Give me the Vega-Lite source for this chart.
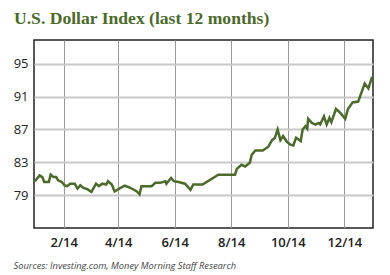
{
  "$schema": "https://vega.github.io/schema/vega-lite/v6.json",
  "width": 339,
  "height": 188,
  "autosize": {"type": "none"},
  "padding": {"left": 34, "top": 40, "right": 17, "bottom": 47},
  "background": "white",
  "title": {
    "text": "U.S. Dollar Index (last 12 months)",
    "anchor": "start",
    "frame": "group",
    "dx": -20,
    "offset": -2,
    "baseline": "alphabetic",
    "font": "Liberation Serif",
    "fontSize": 17.6,
    "fontWeight": "bold",
    "color": "#4b6a2b"
  },
  "config": {
    "view": {"stroke": "#222", "strokeWidth": 1.5},
    "axis": {"domain": false, "ticks": false, "labelFont": "Open Sans", "labelFontSize": 13, "labelColor": "#222"}
  },
  "data": {
    "values": [
      {"date": "2014-01-01", "value": 80.7},
      {"date": "2014-01-06", "value": 81.4},
      {"date": "2014-01-09", "value": 81.2},
      {"date": "2014-01-11", "value": 80.6},
      {"date": "2014-01-16", "value": 80.6},
      {"date": "2014-01-18", "value": 81.5},
      {"date": "2014-01-21", "value": 81.2},
      {"date": "2014-01-24", "value": 81.2},
      {"date": "2014-01-26", "value": 80.8},
      {"date": "2014-01-30", "value": 80.6},
      {"date": "2014-02-02", "value": 80.2},
      {"date": "2014-02-05", "value": 80.1},
      {"date": "2014-02-08", "value": 80.4},
      {"date": "2014-02-13", "value": 80.4},
      {"date": "2014-02-16", "value": 79.8},
      {"date": "2014-02-19", "value": 80.2},
      {"date": "2014-02-22", "value": 79.9},
      {"date": "2014-02-27", "value": 79.7},
      {"date": "2014-03-03", "value": 79.4},
      {"date": "2014-03-08", "value": 80.4},
      {"date": "2014-03-11", "value": 80.1},
      {"date": "2014-03-15", "value": 80.4},
      {"date": "2014-03-19", "value": 80.3},
      {"date": "2014-03-21", "value": 80.7},
      {"date": "2014-03-25", "value": 80.3},
      {"date": "2014-03-28", "value": 79.45},
      {"date": "2014-04-02", "value": 79.8},
      {"date": "2014-04-08", "value": 80.15},
      {"date": "2014-04-14", "value": 79.9},
      {"date": "2014-04-21", "value": 79.45},
      {"date": "2014-04-24", "value": 79.1},
      {"date": "2014-04-26", "value": 80.1},
      {"date": "2014-05-02", "value": 80.1},
      {"date": "2014-05-07", "value": 80.1},
      {"date": "2014-05-11", "value": 80.5},
      {"date": "2014-05-16", "value": 80.5},
      {"date": "2014-05-22", "value": 80.7},
      {"date": "2014-05-23", "value": 80.4},
      {"date": "2014-05-28", "value": 81.1},
      {"date": "2014-05-31", "value": 80.7},
      {"date": "2014-06-05", "value": 80.6},
      {"date": "2014-06-12", "value": 80.4},
      {"date": "2014-06-18", "value": 79.65},
      {"date": "2014-06-21", "value": 80.3},
      {"date": "2014-07-01", "value": 80.3},
      {"date": "2014-07-18", "value": 81.5},
      {"date": "2014-08-05", "value": 81.5},
      {"date": "2014-08-07", "value": 82.2},
      {"date": "2014-08-12", "value": 82.7},
      {"date": "2014-08-16", "value": 82.5},
      {"date": "2014-08-21", "value": 82.95},
      {"date": "2014-08-23", "value": 83.9},
      {"date": "2014-08-27", "value": 84.45},
      {"date": "2014-09-04", "value": 84.45},
      {"date": "2014-09-10", "value": 84.9},
      {"date": "2014-09-14", "value": 85.7},
      {"date": "2014-09-17", "value": 85.95},
      {"date": "2014-09-20", "value": 87.0},
      {"date": "2014-09-23", "value": 85.7},
      {"date": "2014-09-26", "value": 86.2},
      {"date": "2014-09-30", "value": 85.5},
      {"date": "2014-10-04", "value": 85.15},
      {"date": "2014-10-07", "value": 85.05},
      {"date": "2014-10-10", "value": 86.0},
      {"date": "2014-10-15", "value": 85.6},
      {"date": "2014-10-17", "value": 87.0},
      {"date": "2014-10-20", "value": 87.4},
      {"date": "2014-10-22", "value": 87.1},
      {"date": "2014-10-23", "value": 88.3},
      {"date": "2014-10-27", "value": 87.8},
      {"date": "2014-10-31", "value": 87.6},
      {"date": "2014-11-03", "value": 87.8},
      {"date": "2014-11-05", "value": 87.6},
      {"date": "2014-11-09", "value": 88.6},
      {"date": "2014-11-12", "value": 87.6},
      {"date": "2014-11-15", "value": 88.4},
      {"date": "2014-11-17", "value": 87.9},
      {"date": "2014-11-22", "value": 89.5},
      {"date": "2014-11-26", "value": 89.1},
      {"date": "2014-12-02", "value": 88.3},
      {"date": "2014-12-05", "value": 89.5},
      {"date": "2014-12-10", "value": 90.3},
      {"date": "2014-12-16", "value": 90.4},
      {"date": "2014-12-23", "value": 92.6},
      {"date": "2014-12-27", "value": 92.0},
      {"date": "2014-12-31", "value": 93.4}
    ]
  },
  "mark": {"type": "line", "color": "#4b6a2b", "strokeWidth": 2.5, "strokeJoin": "miter"},
  "encoding": {
    "x": {
      "field": "date",
      "type": "temporal",
      "scale": {"domain": ["2013-12-31", "2015-01-01"], "nice": false},
      "axis": {
        "values": ["2014-02-01", "2014-04-01", "2014-06-01", "2014-08-01", "2014-10-01", "2014-12-01"],
        "format": "%-m/%y",
        "labelPadding": 8,
        "labelFontWeight": 600,
        "grid": true,
        "gridColor": "#999",
        "gridWidth": 1,
        "gridOpacity": 1,
        "title": "Sources: Investing.com, Money Morning Staff Research",
        "titleFont": "Open Sans",
        "titleFontSize": 9.3,
        "titleFontStyle": "italic",
        "titleFontWeight": "normal",
        "titleColor": "#444",
        "titleAnchor": "start",
        "titleAlign": "left",
        "titleBaseline": "alphabetic",
        "titleX": -21,
        "titleY": 40
      }
    },
    "y": {
      "field": "value",
      "type": "quantitative",
      "scale": {"domain": [75, 97.9], "nice": false, "zero": false},
      "axis": {
        "values": [79, 83, 87, 91, 95],
        "labelPadding": 6,
        "grid": true,
        "gridColor": "#c8c8c8",
        "gridWidth": 2,
        "gridOpacity": 1,
        "title": null
      }
    }
  }
}
